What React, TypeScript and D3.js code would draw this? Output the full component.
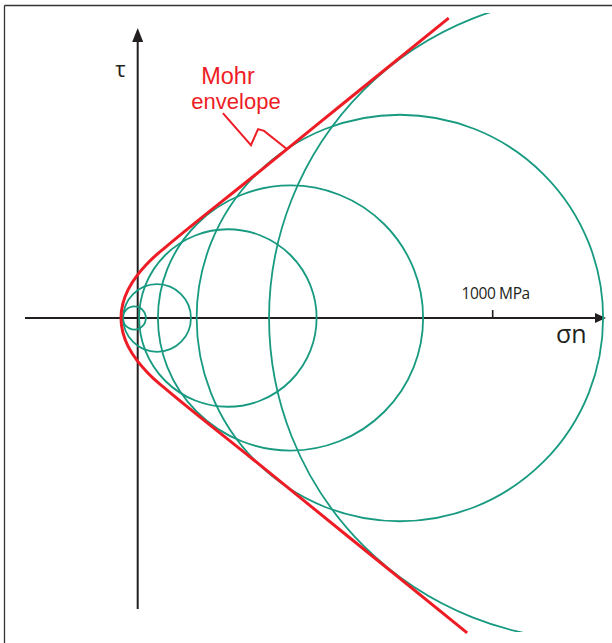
import React from "react";
import * as d3 from "d3";

// Mohr circles: minimum and maximum principal stresses (MPa)
const SIGMA3 = [-42, -41, 4, 57, 166, 370];
const SIGMA1 = [23, 150, 504, 804, 1311, 2184];

// Mohr envelope (normal stress σn, shear stress τ, MPa)
const ENVELOPE_TAU = [845, 614, 400, 194, 170, 150, 121, 80, 40, 0, -40, -80, -121, -150, -170, -194, -400, -614, -887];
const ENVELOPE_SIGMA = [876, 591, 327, 72, 44, 24, -1, -27, -42, -47, -42, -27, -1, 24, 44, 72, 327, 591, 928];

// Leader line from the label to the envelope (MPa)
const LEADER_SIGMA = [240, 319, 339, 356, 420];
const LEADER_TAU = [577, 487, 532, 527, 476];

const TICK_VALUES = [1000];
const TICK_LABELS = ["1000 MPa"];
const LABEL_LINES = ["Mohr", "envelope"];

const W = 612;
const H = 643;
const RED = "#ee1c25";
const TEAL = "#179a80";
const INK = "#231f20";
const FONT = "'Open Sans', 'Noto Sans', sans-serif";
const LABEL_FONT = "'Liberation Sans', Arial, sans-serif";

export default function App() {
  const x = d3.scaleLinear().domain([0, 1000]).range([137.7, 492.7]);
  const y = d3.scaleLinear().domain([0, 1000]).range([318, -37]);
  const r = (v: number) => x(v) - x(0);

  const envPts: [number, number][] = ENVELOPE_TAU.map((t, i) => [ENVELOPE_SIGMA[i], t]);
  const envPath = d3
    .line<[number, number]>()
    .x((d) => x(d[0]))
    .y((d) => y(d[1]))
    .curve(d3.curveMonotoneY)(envPts) as string;

  const leaderPts: [number, number][] = LEADER_TAU.map((t, i) => [LEADER_SIGMA[i], t]);
  const leaderPath = d3
    .line<[number, number]>()
    .x((d) => x(d[0]))
    .y((d) => y(d[1]))(leaderPts) as string;

  const x0 = x(0);
  const y0 = y(0);
  const axisLeft = 25;
  const axisRightTip = 606;
  const axisTop = 28;
  const axisBottom = 609;

  return (
    <svg
      width={W}
      height={H}
      viewBox={`0 0 ${W} ${H}`}
      style={{ position: "absolute", left: 0, top: 0, display: "block", background: "#fff" }}
    >
      <defs>
        <clipPath id="plotClip">
          <rect x={4} y={13} width={W - 4} height={619} />
        </clipPath>
      </defs>
      <rect x={0} y={0} width={W} height={H} fill="#fff" />
      {/* frame */}
      <line x1={4.5} y1={5.5} x2={W} y2={5.5} stroke="#333" strokeWidth={1.3} />
      <line x1={4.5} y1={5.5} x2={4.5} y2={H} stroke="#333" strokeWidth={1.3} />

      {/* axes */}
      <line x1={axisLeft} y1={y0} x2={axisRightTip - 8} y2={y0} stroke={INK} strokeWidth={2} />
      <polygon
        points={`${axisRightTip},${y0} ${axisRightTip - 11},${y0 - 5} ${axisRightTip - 11},${y0 + 5}`}
        fill={INK}
      />
      <line x1={x0} y1={axisBottom} x2={x0} y2={axisTop + 10} stroke={INK} strokeWidth={2} />
      <polygon
        points={`${x0},${axisTop} ${x0 - 5.5},${axisTop + 14} ${x0 + 5.5},${axisTop + 14}`}
        fill={INK}
      />
      {TICK_VALUES.map((v, i) => (
        <g key={v}>
          <line x1={x(v)} y1={y0 - 8} x2={x(v)} y2={y0} stroke={INK} strokeWidth={1.6} />
          <text
            x={x(v) + 3}
            y={y0 - 19}
            textAnchor="middle"
            fontFamily={FONT}
            fontSize={15.5}
            letterSpacing={-0.4}
            fill={INK}
          >
            {TICK_LABELS[i]}
          </text>
        </g>
      ))}
      <text x={556} y={343} fontFamily={FONT} fontSize={25} fill={INK}>
        σn
      </text>
      <text x={120.5} y={77} textAnchor="middle" fontFamily={FONT} fontSize={22} fill={INK}>
        τ
      </text>

      {/* Mohr circles */}
      <g clipPath="url(#plotClip)">
        {SIGMA3.map((s3, i) => {
          const s1 = SIGMA1[i];
          return (
            <circle
              key={i}
              cx={x((s1 + s3) / 2)}
              cy={y0}
              r={r((s1 - s3) / 2)}
              fill="none"
              stroke={TEAL}
              strokeWidth={1.8}
            />
          );
        })}
      </g>

      {/* envelope */}
      <path d={envPath} fill="none" stroke={RED} strokeWidth={3} />
      <path d={leaderPath} fill="none" stroke={RED} strokeWidth={2} strokeLinejoin="miter" />
      <text x={228} y={84} textAnchor="middle" fontFamily={LABEL_FONT} fontSize={23.5} fill={RED}>
        {LABEL_LINES[0]}
      </text>
      <text x={236} y={109} textAnchor="middle" fontFamily={LABEL_FONT} fontSize={22} fill={RED}>
        {LABEL_LINES[1]}
      </text>
    </svg>
  );
}
